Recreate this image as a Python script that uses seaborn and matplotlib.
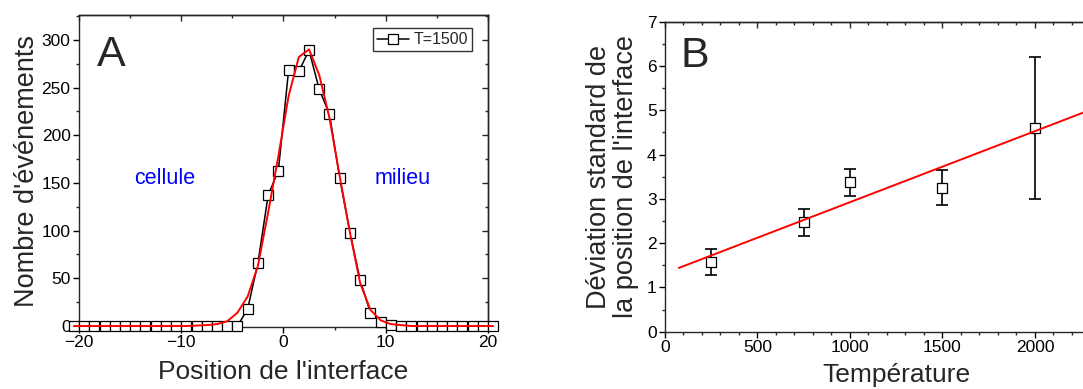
import matplotlib
matplotlib.use("Agg")
import matplotlib.pyplot as plt
from matplotlib.ticker import MultipleLocator
import numpy as np
import pandas as pd
import seaborn as sns

# Panel A: histogram of interface position (T=1500) and its fit
positions = [-20.5, -19.5, -18.5, -17.5, -16.5, -15.5, -14.5, -13.5, -12.5, -11.5,
             -10.5, -9.5, -8.5, -7.5, -6.5, -5.5, -4.5, -3.5, -2.5, -1.5,
             -0.5, 0.5, 1.5, 2.5, 3.5, 4.5, 5.5, 6.5, 7.5, 8.5,
             9.5, 10.5, 11.5, 12.5, 13.5, 14.5, 15.5, 16.5, 17.5, 18.5,
             19.5, 20.5]
counts = [0, 0, 0, 0, 0, 0, 0, 0, 0, 0,
          0, 0, 0, 0, 0, 0, 0, 18, 66, 137,
          163, 268, 267, 289, 248, 222, 155, 98, 48, 14,
          4, 1, 0, 0, 0, 0, 0, 0, 0, 0,
          0, 0]
fit_counts = [0, 0, 0, 0, 0, 0, 0, 0, 0, 0,
              0, 0, 0.5, 1, 2, 5, 14, 31, 63, 119,
              178, 241, 282, 290, 263, 218, 157, 98, 45, 17,
              6, 2, 1, 0, 0, 0, 0, 0, 0, 0,
              0, 0]

# Panel B: standard deviation of interface position vs temperature
temperatures = [250, 750, 1000, 1500, 2000]
std_dev = [1.57, 2.47, 3.37, 3.25, 4.60]
std_err = [0.30, 0.30, 0.30, 0.40, 1.60]
fit_temp = [75, 2500]
fit_std = [1.44, 5.33]

sns.set_style("ticks")
plt.rcParams["font.family"] = ["Liberation Sans", "DejaVu Sans"]
plt.rcParams["axes.linewidth"] = 1.0

fig = plt.figure(figsize=(10.83, 3.89), dpi=100)
axA = fig.add_axes([0.0729, 0.1594, 0.3777, 0.802])
axB = fig.add_axes([0.614, 0.1473, 0.427, 0.797])

df_a = pd.DataFrame({"pos": positions, "n": counts, "fit": fit_counts})
df_b = pd.DataFrame({"T": temperatures, "sd": std_dev, "err": std_err})
df_bfit = pd.DataFrame({"T": fit_temp, "sd": fit_std})

# ---- Panel A
sns.lineplot(data=df_a, x="pos", y="n", ax=axA, color="black", linewidth=1.1,
             marker="s", markersize=7.5, markerfacecolor="white",
             markeredgecolor="black", markeredgewidth=0.9, clip_on=False,
             label="T=1500", zorder=3)
sns.lineplot(data=df_a, x="pos", y="fit", ax=axA, color="red", linewidth=1.4,
             clip_on=False, zorder=4)
axA.set_xlim(-20, 20)
axA.set_ylim(-1, 326)
axA.xaxis.set_major_locator(MultipleLocator(10))
axA.xaxis.set_minor_locator(MultipleLocator(5))
axA.yaxis.set_major_locator(MultipleLocator(50))
axA.yaxis.set_minor_locator(MultipleLocator(25))
axA.set_xlabel("Position de l'interface", fontsize=19, labelpad=7)
axA.set_ylabel("Nombre d'événements", fontsize=19.5, labelpad=1)
axA.text(-16.8, 284, "A", fontsize=31, ha="center", va="center")
axA.text(-11.6, 155, "cellule", fontsize=15.5, color="blue", ha="center", va="center")
axA.text(11.66, 155, "milieu", fontsize=15.5, color="blue", ha="center", va="center")
leg = axA.legend(loc="upper right", bbox_to_anchor=(0.962, 0.957), fontsize=11.5,
                 frameon=True, fancybox=False, handlelength=2.0, handletextpad=0.3,
                 borderpad=0.25, borderaxespad=0)
leg.get_frame().set_edgecolor("black")
leg.get_frame().set_linewidth(1.0)

# ---- Panel B
axB.errorbar(df_b["T"], df_b["sd"], yerr=df_b["err"], fmt="none", ecolor="black",
             elinewidth=1.2, capsize=4, capthick=1.2, zorder=2)
sns.scatterplot(data=df_b, x="T", y="sd", ax=axB, marker="s", s=55,
                facecolor="white", edgecolor="black", linewidth=0.9, zorder=3)
sns.lineplot(data=df_bfit, x="T", y="sd", ax=axB, color="red", linewidth=1.4, zorder=4)
axB.set_xlim(0, 2500)
axB.set_ylim(0, 7)
axB.set_xticks([0, 500, 1000, 1500, 2000])
axB.xaxis.set_minor_locator(MultipleLocator(100))
axB.yaxis.set_major_locator(MultipleLocator(1))
axB.yaxis.set_minor_locator(MultipleLocator(0.5))
axB.set_xlabel("Température", fontsize=19, labelpad=6)
axB.set_ylabel("Déviation standard de\nla position de l'interface", fontsize=19.5,
               labelpad=6, linespacing=1.05)
axB.text(162, 6.23, "B", fontsize=31, ha="center", va="center")

for ax, ymaj, ymin in [(axA, 50, 25), (axB, 1, 0.5)]:
    for side in ["top", "right"]:
        ax.spines[side].set_visible(True)
    ax.tick_params(which="major", direction="out", length=4.5, width=1.0,
                   labelsize=12.5, pad=1.5, colors="black")
    ax.tick_params(which="minor", direction="out", length=2.5, width=1.0)
    top = ax.secondary_xaxis("top")
    top.set_xticks(ax.get_xticks())
    top.xaxis.set_minor_locator(ax.xaxis.get_minor_locator())
    top.tick_params(which="major", direction="in", length=4.5, width=1.0, labeltop=False)
    top.tick_params(which="minor", direction="in", length=2.5, width=1.0)
    right = ax.secondary_yaxis("right")
    right.yaxis.set_major_locator(MultipleLocator(ymaj))
    right.yaxis.set_minor_locator(MultipleLocator(ymin))
    right.tick_params(which="major", direction="in", length=4.5, width=1.0, labelright=False)
    right.tick_params(which="minor", direction="in", length=2.5, width=1.0)

fig.savefig("out.png", dpi=100)
